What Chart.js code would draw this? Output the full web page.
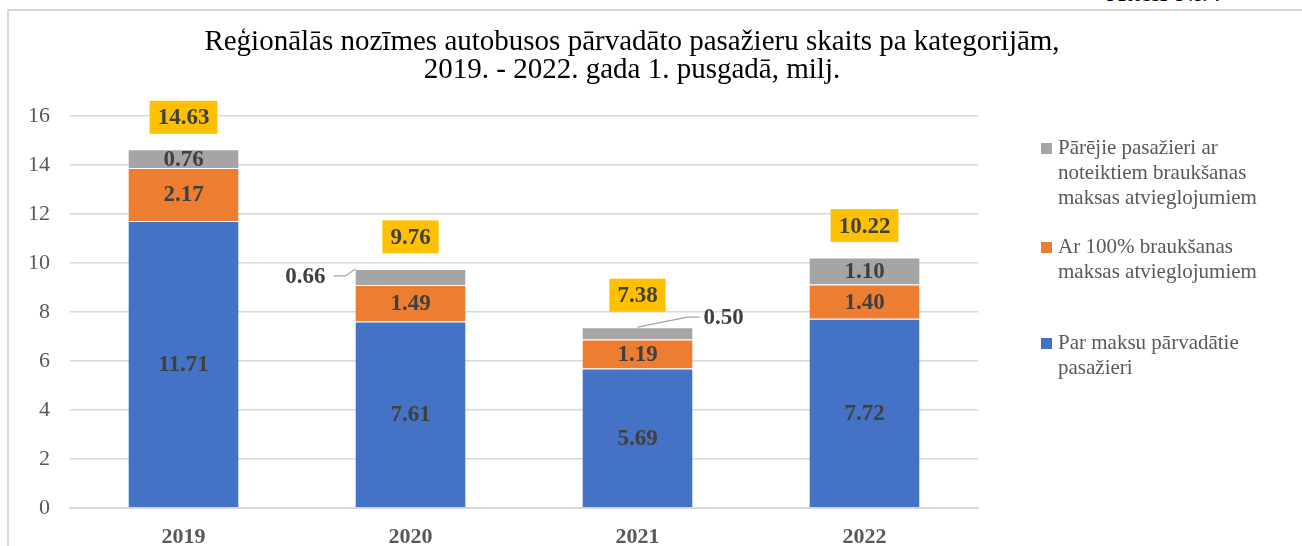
<!DOCTYPE html>
<html>
<head>
<meta charset="utf-8">
<script src="https://cdn.jsdelivr.net/npm/chart.js@4/dist/chart.umd.min.js"></script>
<style>
  html, body { margin: 0; padding: 0; background: #fff; overflow: hidden; }
  #wrap { position: relative; width: 1302px; height: 546px; overflow: hidden; }
  #frame { position: absolute; left: 7px; top: 9px; width: 1400px; height: 700px; border-left: 2px solid #d9d9d9; border-top: 2px solid #d9d9d9; box-sizing: border-box; }
  #fig { position: absolute; left: 1107px; top: -22px; font: 26px "Liberation Serif", serif; color: #000; white-space: nowrap; }
  canvas { position: absolute; left: 0; top: 0; }
</style>
</head>
<body>
<div id="wrap">
  <div id="frame"></div>
  <div id="fig">Attēls Nr.4</div>
  <canvas id="c" width="1302" height="546"></canvas>
</div>
<script>
const categories = ["2019", "2020", "2021", "2022"];
const paidPassengers = [11.71, 7.61, 5.69, 7.72];
const fullDiscount = [2.17, 1.49, 1.19, 1.40];
const otherDiscount = [0.76, 0.66, 0.50, 1.10];
const totals = [14.63, 9.76, 7.38, 10.22];
const yTicks = [0, 2, 4, 6, 8, 10, 12, 14, 16];

const seriesNames = [
  ["Par maksu pārvadātie", "pasažieri"],
  ["Ar 100% braukšanas", "maksas atvieglojumiem"],
  ["Pārējie pasažieri ar", "noteiktiem braukšanas", "maksas atvieglojumiem"]
];
const titleLines = ["Reģionālās nozīmes autobusos pārvadāto pasažieru skaits pa kategorijām,",
                    "2019. - 2022. gada 1. pusgadā, milj."];
const colors = ["#4472C4", "#ED7D31", "#A5A5A5"];

const SERIF = '"Liberation Serif", "Times New Roman", serif';
const LABEL_COLOR = "#404040";

const labelPlugin = {
  id: "labels",
  afterDatasetsDraw(chart) {
    const ctx = chart.ctx;
    ctx.save();
    ctx.font = "bold 23px " + SERIF;
    ctx.textAlign = "center";
    ctx.textBaseline = "middle";
    ctx.fillStyle = LABEL_COLOR;
    chart.data.datasets.forEach((ds, di) => {
      const meta = chart.getDatasetMeta(di);
      meta.data.forEach((bar, i) => {
        const txt = ds.data[i].toFixed(2);
        const cy = (bar.y + bar.base) / 2;
        if (di === 2 && i === 1) {
          const left = bar.x - bar.width / 2;
          ctx.strokeStyle = "#A5A5A5"; ctx.lineWidth = 1.2;
          ctx.beginPath();
          ctx.moveTo(left - 22, cy - 1);
          ctx.lineTo(left - 10, cy - 1);
          ctx.lineTo(left, cy - 8);
          ctx.stroke();
          ctx.textAlign = "right";
          ctx.fillText(txt, left - 30, cy);
          ctx.textAlign = "center";
        } else if (di === 2 && i === 2) {
          const right = bar.x + bar.width / 2;
          ctx.strokeStyle = "#A5A5A5"; ctx.lineWidth = 1.2;
          ctx.beginPath();
          ctx.moveTo(bar.x, bar.y);
          ctx.lineTo(right - 5, bar.y - 10);
          ctx.lineTo(right + 7, bar.y - 10);
          ctx.stroke();
          ctx.textAlign = "left";
          ctx.fillText(txt, right + 11, bar.y - 9);
          ctx.textAlign = "center";
        } else {
          ctx.fillText(txt, bar.x, cy + 1);
        }
      });
    });
    const topMeta = chart.getDatasetMeta(2);
    topMeta.data.forEach((bar, i) => {
      const txt = totals[i].toFixed(2);
      const w = ctx.measureText(txt).width + 16;
      const h = 33;
      const cy = bar.y - 32;
      ctx.fillStyle = "#FFC000";
      ctx.fillRect(bar.x - w / 2, cy - h / 2, w, h);
      ctx.fillStyle = LABEL_COLOR;
      ctx.fillText(txt, bar.x, cy + 1);
    });
    ctx.restore();
  },
  afterDraw(chart) {
    const ctx = chart.ctx;
    ctx.save();
    ctx.font = "29px " + SERIF;
    ctx.fillStyle = "#000";
    ctx.textAlign = "center";
    ctx.textBaseline = "alphabetic";
    ctx.fillText(titleLines[0], 632, 50);
    ctx.fillText(titleLines[1], 632, 78);
    ctx.font = "21px " + SERIF;
    ctx.textAlign = "left";
    ctx.textBaseline = "middle";
    const starts = [343, 247, 148];
    for (let s = 2; s >= 0; s--) {
      const y0 = starts[s];
      ctx.fillStyle = colors[s];
      ctx.fillRect(1041, y0 - 5, 11, 11);
      ctx.fillStyle = "#595959";
      seriesNames[s].forEach((line, k) => ctx.fillText(line, 1058, y0 + k * 25));
    }
    ctx.restore();
  }
};

new Chart(document.getElementById("c"), {
  type: "bar",
  data: {
    labels: categories,
    datasets: [
      { label: seriesNames[0].join(" "), data: paidPassengers, backgroundColor: colors[0] },
      { label: seriesNames[1].join(" "), data: fullDiscount, backgroundColor: colors[1] },
      { label: seriesNames[2].join(" "), data: otherDiscount, backgroundColor: colors[2] }
    ].map(d => Object.assign(d, { borderColor: "rgba(255,255,255,0.6)", borderWidth: { top: 1 }, borderSkipped: false,
                                   categoryPercentage: 1, barPercentage: 0.485 }))
  },
  options: {
    responsive: false,
    animation: false,
    devicePixelRatio: 1,
    layout: { padding: { left: 0, right: 324, top: 116, bottom: 0 } },
    plugins: { legend: { display: false }, title: { display: false }, tooltip: { enabled: false } },
    scales: {
      x: {
        stacked: true,
        grid: { display: false, drawTicks: false },
        border: { display: true, color: "#D9D9D9", width: 2 },
        ticks: { color: "#595959", font: { family: SERIF, size: 22, weight: "bold" }, padding: 16 },
        afterFit(s) { s.height = 38; }
      },
      y: {
        stacked: true,
        min: 0, max: 16,
        afterBuildTicks(s) { s.ticks = yTicks.map(v => ({ value: v })); },
        grid: { color: "#D9D9D9", lineWidth: 1.5, drawTicks: false },
        border: { display: false },
        ticks: { color: "#595959", font: { family: SERIF, size: 22 }, padding: 20 },
        afterFit(s) { s.width = 70; }
      }
    }
  },
  plugins: [labelPlugin]
});
</script>
</body>
</html>
